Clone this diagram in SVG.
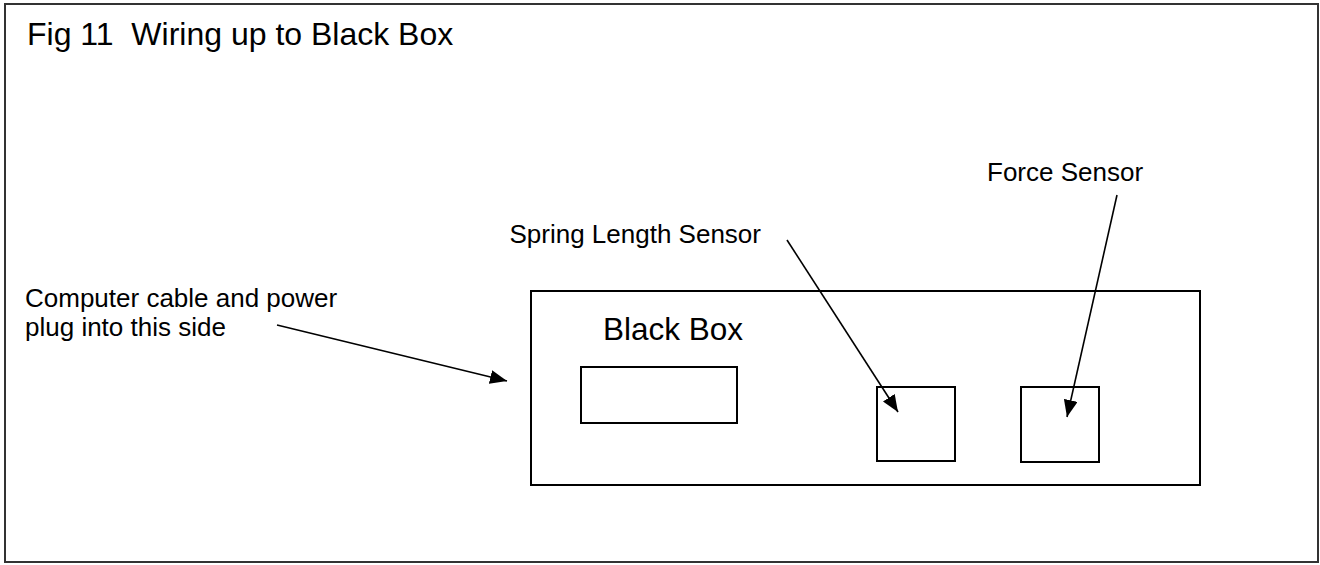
<svg xmlns="http://www.w3.org/2000/svg" width="1320" height="565" viewBox="0 0 1320 565">
<style>
.lbl{font-family:"Liberation Sans",Arial,sans-serif;fill:#000}
.small{font-size:26px}
.big{font-size:31.5px}
.box{fill:#fff;stroke:#000;stroke-width:2}
.conn{stroke:#000;stroke-width:1.6;fill:none;marker-end:url(#ah)}
</style>
<defs>
<marker id="ah" markerUnits="userSpaceOnUse" markerWidth="18" markerHeight="14" refX="17" refY="7" orient="auto">
<path d="M0,0 L17,7 L0,14 z" fill="#000"/>
</marker>
</defs>
<rect x="0" y="0" width="1320" height="565" fill="#fff"/>
<g id="frame"><rect x="5" y="4" width="1313" height="558" fill="none" stroke="#333" stroke-width="2"/></g>
<g id="title"><text class="lbl" x="27" y="45" font-size="32" xml:space="preserve" style="white-space:pre">Fig 11  Wiring up to Black Box</text></g>
<g id="blackbox">
<rect class="box" x="531" y="291" width="669" height="194"/>
<text class="lbl big" x="603" y="340">Black Box</text>
</g>
<g id="display"><rect class="box" x="581" y="367" width="156" height="56"/></g>
<g id="spring-sensor"><rect class="box" x="877" y="387" width="78" height="74"/></g>
<g id="force-sensor"><rect class="box" x="1021" y="387" width="78" height="75"/></g>
<g id="label-computer">
<text class="lbl small" x="25" y="307">Computer cable and power</text>
<text class="lbl small" x="25" y="336">plug into this side</text>
</g>
<g id="label-spring"><text class="lbl small" x="761" y="243" text-anchor="end">Spring Length Sensor</text></g>
<g id="label-force"><text class="lbl small" x="987" y="181">Force Sensor</text></g>
<g id="connectors">
<line class="conn" x1="277" y1="325" x2="507" y2="381"/>
<line class="conn" x1="787" y1="240" x2="898" y2="412"/>
<line class="conn" x1="1117" y1="195" x2="1067" y2="417"/>
</g>
</svg>
